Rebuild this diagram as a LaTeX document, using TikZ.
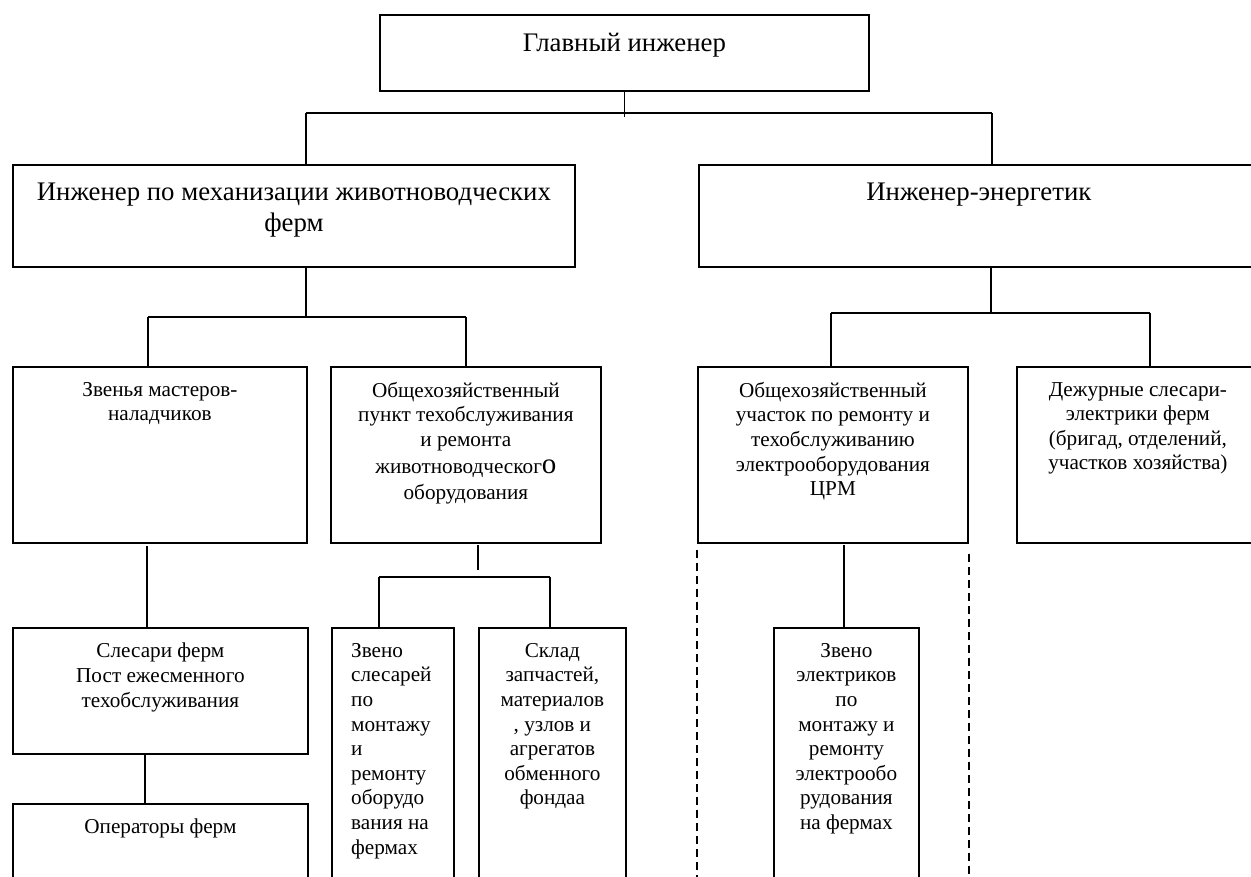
\documentclass[tikz,border=0pt]{standalone}
\usepackage{fontspec}
\setmainfont{Liberation Serif}
\begin{document}
\begin{tikzpicture}[x=1pt,y=-1pt,
  box/.style={draw, line width=1.8pt, inner sep=0pt, anchor=north west},
  big/.style={font=\fontsize{26.8}{31}\selectfont, align=center, inner sep=0pt, anchor=north},
  txt/.style={font=\fontsize{21.2}{24.6}\selectfont, align=center, inner sep=0pt, anchor=north},
  link/.style={line width=1.5pt},
  thinlink/.style={line width=1.1pt},
  dashlink/.style={line width=1.5pt, dash pattern=on 8pt off 5pt}]
\useasboundingbox (0,0) rectangle (1251,876);
\clip (0,0) rectangle (1251,876);
% boxes
\node[box, minimum width=489pt, minimum height=76pt] (gl) at (379,14) {};
\node[box, minimum width=562pt, minimum height=102pt] (mech) at (12,164) {};
\node[box, minimum width=560pt, minimum height=102pt] (energ) at (698,164) {};
\node[box, minimum width=294pt, minimum height=176pt] (zv) at (12,366) {};
\node[box, minimum width=270pt, minimum height=176pt] (obp) at (330,366) {};
\node[box, minimum width=270pt, minimum height=176pt] (obu) at (697,366) {};
\node[box, minimum width=242pt, minimum height=176pt] (dez) at (1016,366) {};
\node[box, minimum width=295pt, minimum height=126pt] (sles) at (12,627) {};
\node[box, minimum width=295pt, minimum height=120pt] (oper) at (12,803) {};
\node[box, minimum width=122pt, minimum height=300pt] (zvs) at (331,627) {};
\node[box, minimum width=147pt, minimum height=300pt] (sklad) at (478,627) {};
\node[box, minimum width=145pt, minimum height=300pt] (zve) at (773,627) {};
% texts
\node[big, yshift=-18.5pt] (glT) at (gl.north) {Главный инженер};
\node[big, yshift=-18.5pt] (mechT) at (mech.north) {Инженер по механизации животноводческих\\ферм};
\node[big, yshift=-18.5pt] (energT) at (energ.north) {Инженер-энергетик};
\node[txt, yshift=-16pt] (zvT) at (zv.north) {Звенья мастеров-\\наладчиков};
\node[txt, yshift=-16pt] (obpT) at (obp.north) {Общехозяйственный\\пункт техобслуживания\\и ремонта\\[2pt]животноводческог{\fontsize{29}{29}\selectfont о}\\[2pt]оборудования};
\node[txt, yshift=-16pt] (obuT) at (obu.north) {Общехозяйственный\\участок по ремонту и\\техобслуживанию\\электрооборудования\\ЦРМ};
\node[txt, yshift=-16pt] (dezT) at (dez.north) {Дежурные слесари-\\электрики ферм\\(бригад, отделений,\\участков хозяйства)};
\node[txt, yshift=-16pt] (slesT) at (sles.north) {Слесари ферм\\Пост ежесменного\\техобслуживания};
\node[txt, yshift=-16pt] (operT) at (oper.north) {Операторы ферм};
\node[txt, align=left, anchor=north west] (zvsT) at (351,643) {Звено\\слесарей\\по\\монтажу\\и\\ремонту\\оборудо\\вания на\\фермах};
\node[txt, yshift=-16pt] (skladT) at (sklad.north) {Склад\\запчастей,\\материалов\\, узлов и\\агрегатов\\обменного\\фондаа};
\node[txt, yshift=-16pt] (zveT) at (zve.north) {Звено\\электриков\\по\\монтажу и\\ремонту\\электрообо\\рудования\\на фермах};
% connectors level 1
\coordinate (b1L) at (306,113);
\coordinate (b1R) at (992,113);
\draw[thinlink] (gl.south) -- ++(0,25);
\draw[link] (b1L) -- (b1R);
\draw[thinlink] (b1L) -- (b1L |- mech.north);
\draw[thinlink] (b1R) -- (b1R |- energ.north);
% left level 2
\coordinate (m2) at (306,317);
\coordinate (b2L) at (148,317);
\coordinate (b2R) at (466,317);
\draw[thinlink] (m2 |- mech.south) -- (m2);
\draw[link] (b2L) -- (b2R);
\draw[link] (b2L) -- (b2L |- zv.north);
\draw[link] (b2R) -- (b2R |- obp.north);
% right level 2
\coordinate (e3) at (991,313);
\coordinate (b3L) at (831,313);
\coordinate (b3R) at (1150,313);
\draw[thinlink] (e3 |- energ.south) -- (e3);
\draw[link] (b3L) -- (b3R);
\draw[link] (b3L) -- (b3L |- obu.north);
\draw[link] (b3R) -- (b3R |- dez.north);
% left column
\coordinate (c1) at (147,546);
\draw[link] (c1) -- (c1 |- sles.north);
\coordinate (c2) at (145,753);
\draw[link] (c2 |- sles.south) -- (c2 |- oper.north);
% obp children
\coordinate (d1) at (478,545);
\coordinate (d2) at (478,570);
\coordinate (b4L) at (379,577);
\coordinate (b4R) at (550,577);
\draw[link] (d1) -- (d2);
\draw[link] (b4L) -- (b4R);
\draw[link] (b4L) -- (b4L |- zvs.north);
\draw[link] (b4R) -- (b4R |- sklad.north);
% obu child
\coordinate (f1) at (844,545);
\draw[link] (f1) -- (f1 |- zve.north);
% dashed lines
\draw[dashlink] ([yshift=-6pt]obu.south west) -- ++(0,340);
\draw[dashlink] ([yshift=-10pt]obu.south east) -- ++(0,340);
\end{tikzpicture}
\end{document}
